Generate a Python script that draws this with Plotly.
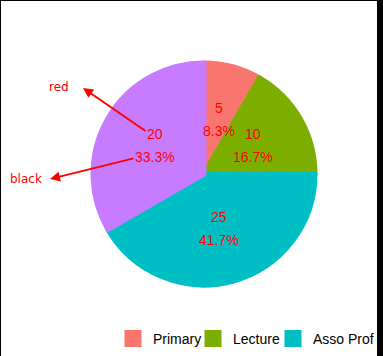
import math
import plotly.graph_objects as go

labels = ["Primary", "Lecture", "Asso Prof", "Professor"]
values = [5, 10, 25, 20]
colors = ["#F8766D", "#7CAE00", "#00BFC4", "#C77CFF"]
callouts = ["red", "black"]

W, H = 377, 356
cx, cy, R = 204, 174, 113.5
LW = 5  # slice outline (same colour as slice) -> larger legend swatches


def px(x):
    return x / W


def py(y):
    return 1 - y / H


Rd = R - LW / 2
fig = go.Figure(go.Pie(
    labels=labels, values=values, sort=False, direction="clockwise", rotation=0,
    marker=dict(colors=colors, line=dict(color=colors, width=LW)),
    textinfo="none",
    domain=dict(x=[px(cx - Rd), px(cx + Rd)], y=[py(cy + Rd), py(cy - Rd)]),
    hoverinfo="none",
))

# slice labels at half radius along each slice's mid angle
total = sum(values)
ann = []
cum = 0
for v in values:
    mid = (cum + v / 2) / total * 2 * math.pi
    cum += v
    lx = cx + 0.5 * R * math.sin(mid)
    ly = cy - 0.5 * R * math.cos(mid)
    for txt, dy in ((f"{v}", -11.5), (f"{v / total * 100:.1f}%", 11.5)):
        ann.append(dict(x=px(lx), y=py(ly + dy), text=txt, showarrow=False,
                        xanchor="center", yanchor="middle",
                        font=dict(color="red", size=14, family="Liberation Sans")))

ann += [
    dict(x=px(59), y=py(87), text=callouts[0], showarrow=False, xanchor="center", yanchor="middle",
         font=dict(color="red", size=12, family="DejaVu Sans")),
    dict(x=px(26), y=py(179), text=callouts[1], showarrow=False, xanchor="center", yanchor="middle",
         font=dict(color="red", size=12, family="DejaVu Sans")),
    dict(x=px(83), y=py(88), ax=64, ay=44, text="", showarrow=True, arrowhead=2, arrowsize=1,
         arrowwidth=2, arrowcolor="red", standoff=0, startstandoff=0),
    dict(x=px(50), y=py(179), ax=85, ay=-21, text="", showarrow=True, arrowhead=2, arrowsize=1,
         arrowwidth=2, arrowcolor="red", standoff=0, startstandoff=0),
]
for a in ann:
    a.update(xref="paper", yref="paper")

shapes = [
    dict(type="rect", xref="paper", yref="paper", x0=0, x1=px(1), y0=0, y1=1,
         fillcolor="black", line=dict(width=0)),
    dict(type="rect", xref="paper", yref="paper", x0=0, x1=1, y0=py(1), y1=1,
         fillcolor="black", line=dict(width=0)),
]

fig.update_layout(
    width=W, height=H, margin=dict(l=0, r=0, t=0, b=0, autoexpand=False),
    paper_bgcolor="white", plot_bgcolor="white",
    annotations=ann, shapes=shapes,
    showlegend=True,
    legend=dict(orientation="h", x=px(113), y=py(339), xanchor="left", yanchor="middle",
                entrywidth=35, entrywidthmode="pixels",
                font=dict(size=14, family="Liberation Sans", color="black"),
                bgcolor="rgba(0,0,0,0)"),
)

post = (
    "document.body.style.margin='0';"
    "document.body.style.background='black';"
    "var gd=document.getElementById('{plot_id}');"
    "var tr=gd.querySelectorAll('g.legend g.traces');"
    "if(tr.length>3){tr[3].style.display='none';}"
)
fig.write_html("out.html", post_script=post, config={"displayModeBar": False})
